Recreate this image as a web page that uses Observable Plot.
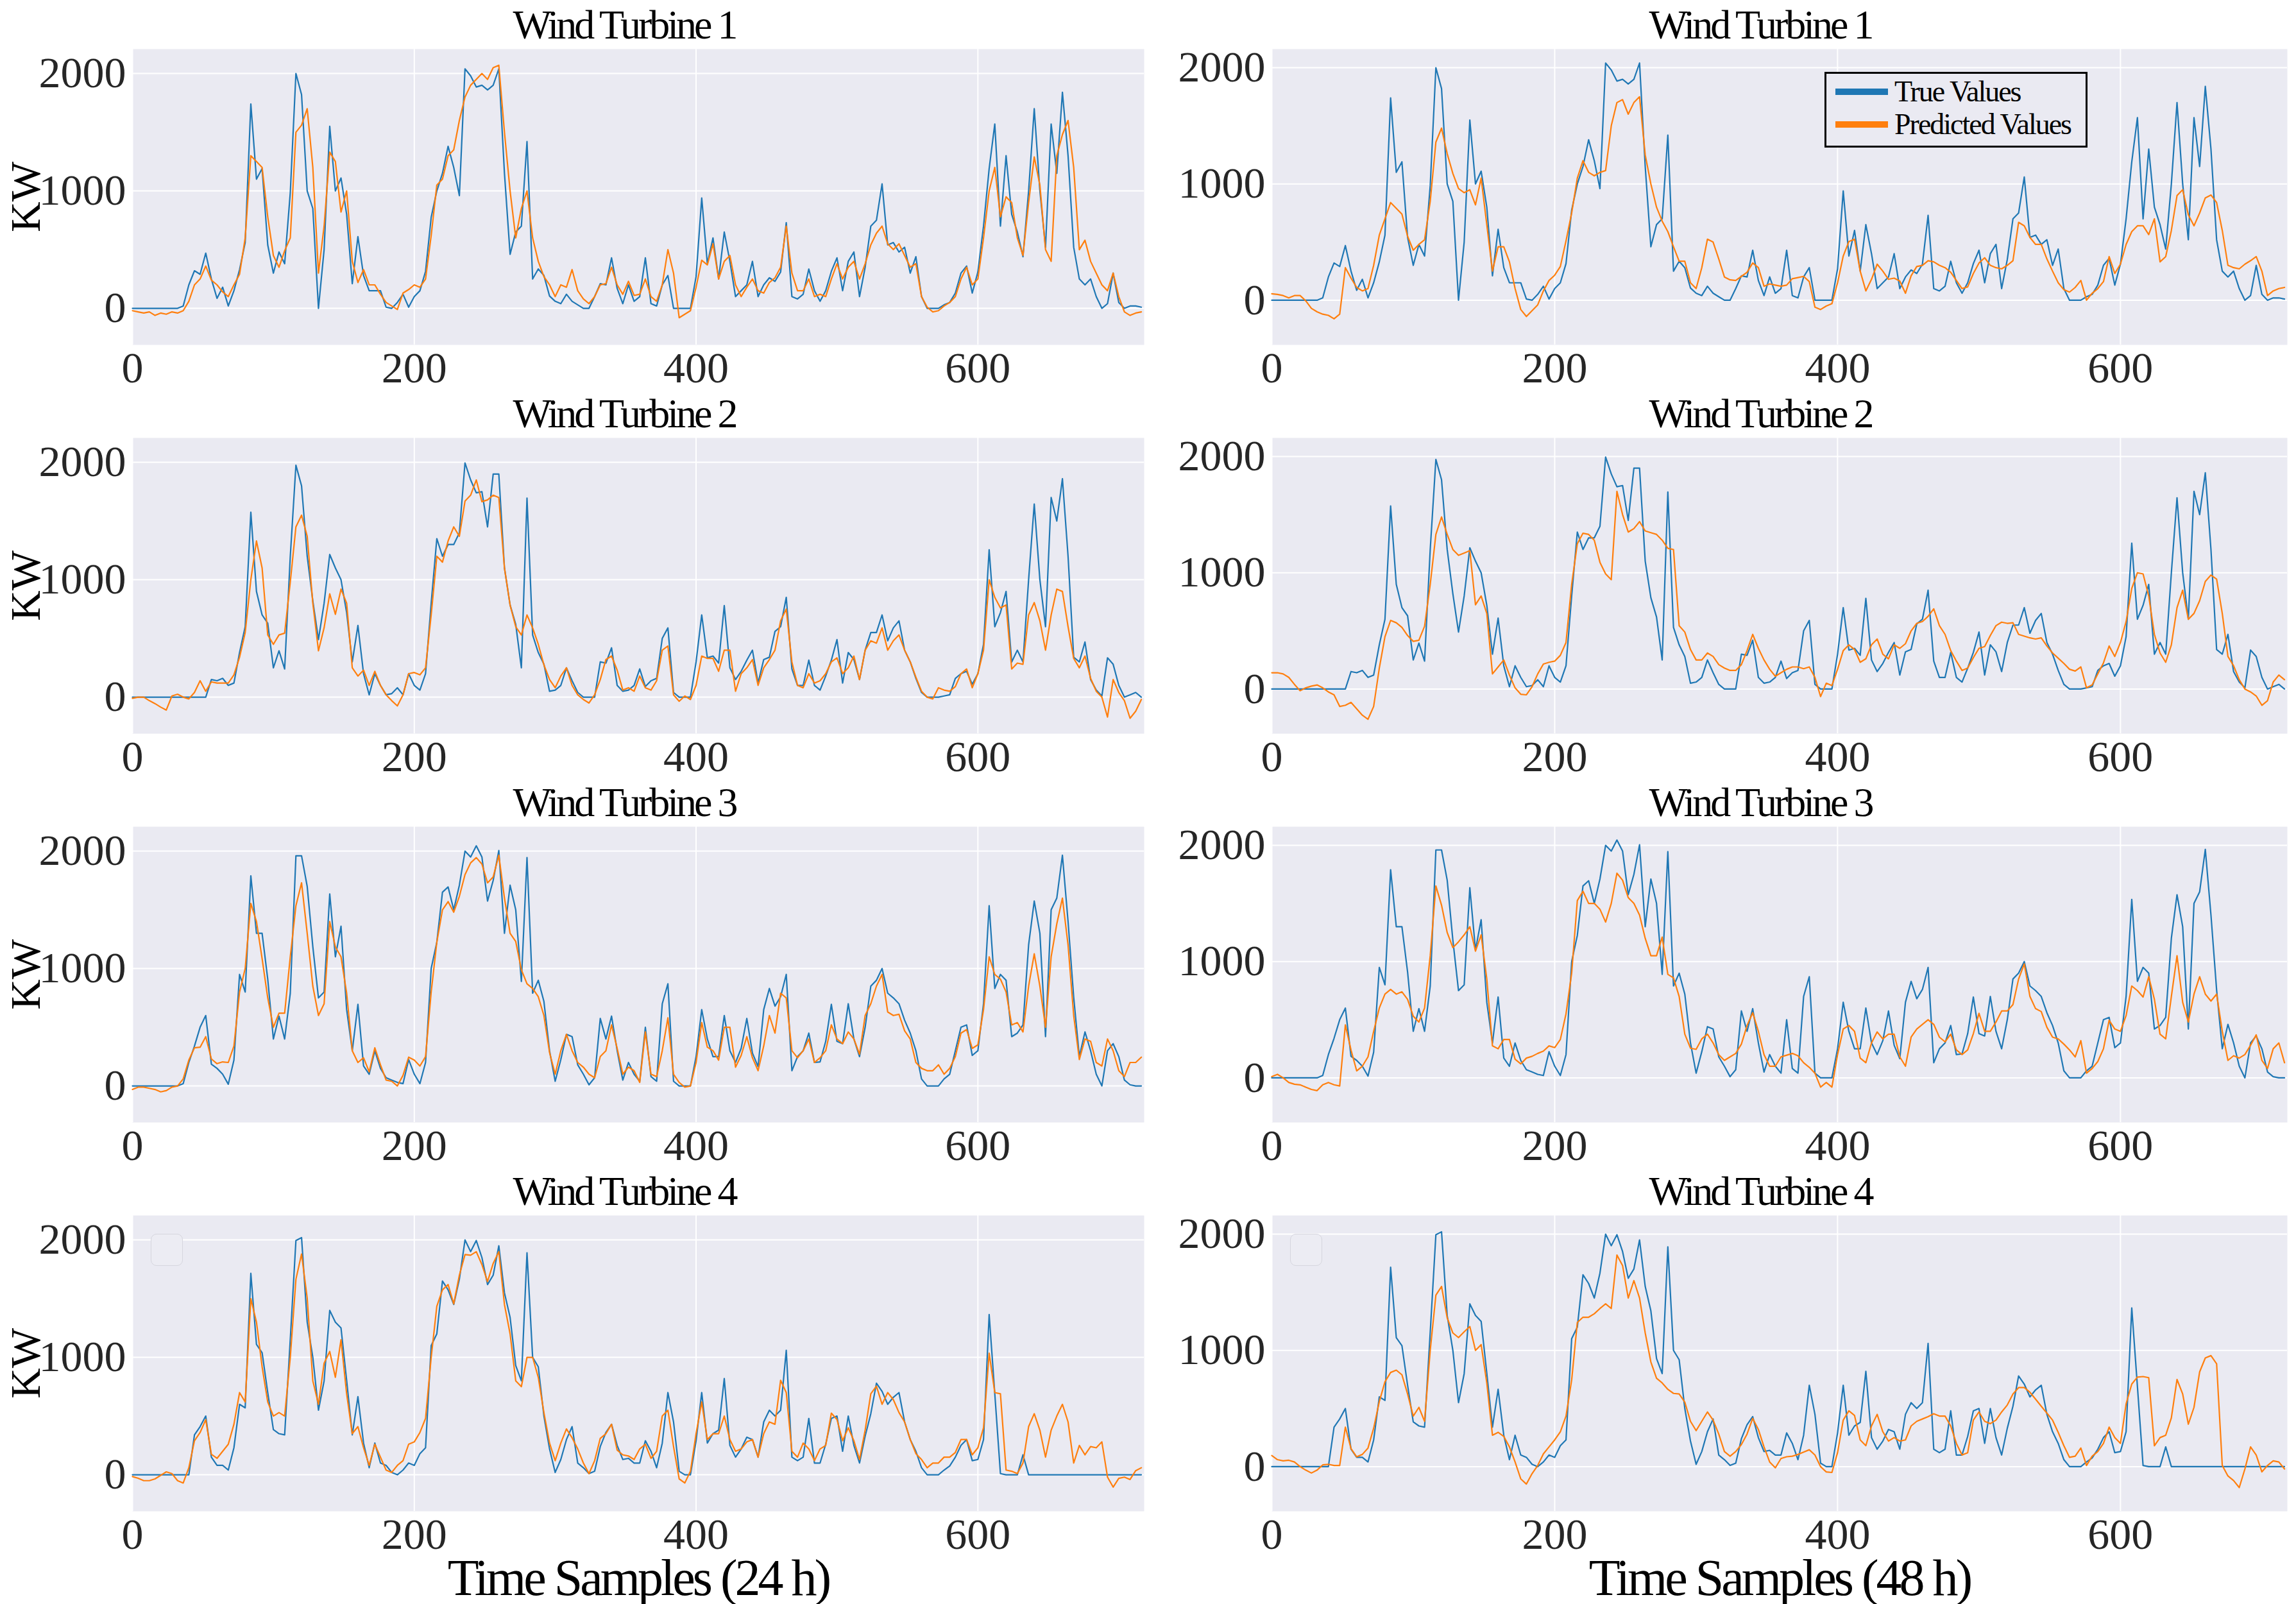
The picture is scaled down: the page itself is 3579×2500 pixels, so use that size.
<!DOCTYPE html>
<html><head><meta charset="utf-8">
<script src="https://cdn.jsdelivr.net/npm/d3@7"></script>
<script src="https://cdn.jsdelivr.net/npm/@observablehq/plot@0.6"></script>
<style>
html,body{margin:0;padding:0;background:#fff;}
#fig{position:relative;width:3579px;height:2500px;background:#fff;font-family:"Liberation Serif","Times New Roman",serif;}
#fig svg{overflow:visible;}
#fig svg text{font-family:"Liberation Serif","Times New Roman",serif;}
.panel{position:absolute;}
.legend{position:absolute;box-sizing:border-box;border:3px solid #000;background:#EAEAF2;}
.legend .sw{position:absolute;height:10px;}
.legend .lb{position:absolute;font-size:46px;line-height:46px;letter-spacing:-2px;color:#000;white-space:nowrap;}
.emptyleg{position:absolute;box-sizing:border-box;width:50px;height:50px;border:1.5px solid #d6d6de;border-radius:9px;background:#ececf3;}
</style></head>
<body><div id="fig"></div>
<script>
// sampling interval of the values below (time samples)
const STEP = 4;
const titles = ["Wind Turbine 1", "Wind Turbine 2", "Wind Turbine 3", "Wind Turbine 4"];
const xLabels = ["Time Samples (24 h)", "Time Samples (48 h)"];
const yLabel = "KW";
const xTicks = [0, 200, 400, 600];
const yTicks = [0, 1000, 2000];
const legendLabels = ["True Values", "Predicted Values"];

// ---- Wind Turbine 1 ----
const true1 = [
0,0,0,0,0,0,0,0,0,20,
200,320,290,470,250,85,180,20,150,330,
560,1740,1100,1190,540,300,480,380,985,2000,
1820,1000,850,0,500,1550,1000,1110,800,210,
610,280,150,150,150,10,0,50,120,10,
100,150,315,775,1000,1150,1380,1200,960,2040,
1980,1885,1900,1860,1900,2040,1150,460,650,700,
1420,250,335,280,105,60,40,120,60,30,
0,0,100,210,200,430,170,40,200,60,
100,430,40,20,200,280,0,0,0,0,
270,940,380,600,250,650,400,100,150,200,
400,100,200,260,230,310,730,100,80,120,
335,150,60,150,315,430,150,400,480,100,
350,700,750,1060,540,560,480,520,300,440,
100,0,0,0,30,50,130,300,360,130,
310,700,1190,1570,700,1300,800,650,440,1000,
1700,1000,520,1570,1150,1840,1300,520,250,200,
250,100,0,40,300,50,0,20,20,10];
const pred24_1 = [
-20,-30,-40,-30,-60,-40,-50,-30,-40,-20,
60,200,250,360,240,200,140,100,200,290,
600,1300,1250,1200,780,450,350,490,600,1500,
1560,1700,1200,300,700,1330,1250,820,1000,400,
220,330,200,200,120,50,20,-10,130,160,
200,180,250,620,1050,1100,1300,1350,1600,1800,
1900,1950,2000,1950,2050,2070,1500,1000,600,850,
1000,600,400,270,200,100,200,180,330,150,
80,40,100,200,210,350,200,120,230,110,
120,250,100,60,200,500,300,-80,-50,-20,
180,410,370,550,250,400,450,200,100,180,
250,150,130,220,260,350,700,300,150,150,
250,100,120,100,250,380,250,350,400,250,
380,540,640,700,550,500,550,450,350,380,
100,10,-30,-20,20,50,100,250,350,200,
250,600,1000,1200,780,950,900,600,450,900,
1290,1050,500,400,1300,1480,1600,1200,500,580,
400,300,200,150,300,100,-30,-60,-40,-30];
const pred48_1 = [
55,50,40,20,40,40,-5,-70,-100,-120,
-130,-160,-120,280,190,110,80,100,300,560,
700,840,790,740,550,430,480,520,850,1360,
1480,1260,1090,960,925,950,820,1050,650,250,
460,460,330,100,-80,-140,-90,-40,80,170,
215,290,510,750,1050,1200,1100,1070,1100,1115,
1500,1700,1725,1600,1700,1750,1250,1000,800,680,
590,460,335,335,150,100,280,525,500,355,
200,175,170,205,240,320,280,120,140,130,
120,130,185,195,205,160,-60,-80,-50,-30,
150,380,505,525,250,80,180,310,250,180,
190,165,60,210,290,300,340,330,300,280,
240,170,100,115,230,320,365,300,280,270,
300,340,670,640,540,480,480,355,250,150,
90,70,110,170,0,60,100,160,375,230,
310,480,590,640,640,565,700,330,375,600,
900,950,735,640,750,880,905,840,600,300,
280,270,310,340,375,250,40,80,100,110];

// ---- Wind Turbine 2 ----
const true2 = [
0,0,0,0,0,0,0,0,0,0,
0,0,0,0,150,140,160,100,120,380,
600,1575,900,700,630,250,395,240,1200,1975,
1800,1200,820,490,800,1215,1100,1000,720,300,
610,200,20,200,100,20,30,80,20,200,
100,60,200,800,1350,1200,1300,1300,1400,1995,
1850,1740,1750,1450,1900,1900,1100,785,620,250,
1695,530,380,280,50,60,100,250,140,40,
0,0,0,300,290,420,100,50,60,100,
240,90,140,160,500,590,40,0,0,0,
300,700,335,350,290,780,250,150,220,315,
400,120,320,340,560,600,850,240,100,100,
315,100,60,180,315,490,120,380,320,150,
400,550,550,700,480,590,650,400,300,160,
40,0,0,0,10,20,160,200,220,110,
200,450,1255,600,720,900,300,400,300,1000,
1645,1000,600,1700,1500,1860,1200,340,300,470,
150,60,10,335,280,100,0,20,40,0];
const pred24_2 = [
-10,0,0,-30,-55,-85,-110,10,25,0,
-15,40,140,50,130,120,120,120,190,340,
550,1000,1330,1100,530,450,530,545,980,1450,
1550,1370,800,395,590,880,705,920,800,250,
180,230,100,220,100,20,-30,-75,20,200,
210,190,250,700,1200,1150,1330,1450,1370,1670,
1720,1850,1665,1680,1720,1700,1100,785,600,530,
700,590,450,275,150,80,180,250,100,20,
-20,-50,20,150,320,350,230,60,80,50,
180,80,60,140,400,435,20,-35,10,-20,
100,350,330,330,220,400,400,50,200,250,
320,100,250,320,400,650,750,300,100,80,
200,120,140,200,300,335,200,250,350,150,
400,480,460,590,400,480,530,400,300,170,
50,0,-15,80,60,50,90,200,240,80,
200,400,1000,850,760,785,240,290,280,700,
805,650,400,700,920,900,600,330,250,350,
160,50,0,-170,150,40,-30,-180,-120,-20];
const pred48_2 = [
140,140,130,100,40,-15,10,25,35,10,
-25,-50,-150,-140,-115,-170,-225,-260,-150,180,
450,590,570,530,460,410,420,540,900,1330,
1480,1330,1200,1150,1170,1190,725,800,650,130,
190,250,120,10,-45,-50,20,130,215,230,
240,290,400,900,1250,1340,1330,1280,1090,990,
940,1700,1500,1350,1380,1440,1360,1345,1330,1280,
1210,1200,545,490,340,250,250,310,280,210,
180,160,160,210,330,470,350,250,170,110,
140,170,190,190,175,190,100,-65,50,30,
170,330,380,340,230,260,380,430,300,260,
380,350,390,500,565,580,625,690,545,470,
330,240,160,180,270,350,365,460,545,575,
565,570,470,455,440,430,440,370,310,265,
220,170,155,190,10,35,130,225,370,280,
400,580,865,1000,990,800,470,310,230,380,
700,850,600,650,760,925,980,945,650,280,
200,80,0,-25,-60,-140,-100,60,120,80];

// ---- Wind Turbine 3 ----
const true3 = [
0,0,0,0,0,0,0,0,0,20,
200,340,500,600,185,150,100,15,220,950,
800,1790,1300,1300,910,400,595,400,790,1960,
1960,1700,1185,750,800,1635,1100,1360,650,300,
695,170,100,300,150,70,50,30,20,225,
100,20,200,1000,1225,1650,1695,1500,1710,2000,
1950,2045,1950,1575,1750,2005,1300,1710,1500,890,
1945,790,900,720,300,40,225,440,420,180,
100,10,70,575,400,595,300,50,200,100,
40,500,80,40,700,870,40,0,0,0,
250,650,400,250,250,600,300,200,320,575,
280,165,650,830,680,760,950,130,250,300,
450,200,205,380,695,380,360,700,400,250,
500,850,900,1000,790,750,700,560,450,300,
60,0,0,0,60,100,300,500,520,260,
300,700,1535,830,950,900,420,450,520,1200,
1575,1300,420,1500,1600,1965,1400,755,250,460,
300,100,0,300,360,250,50,10,0,0];
const pred24_3 = [
-30,-10,-10,-20,-30,-50,-40,-10,0,60,
220,325,330,420,230,190,205,200,340,800,
1000,1555,1400,1085,750,500,620,620,1100,1535,
1730,1300,850,600,700,1400,1185,1100,790,300,
200,240,120,325,180,50,40,0,90,245,
220,170,250,800,1225,1500,1570,1480,1615,1800,
1900,1945,1890,1730,1780,1965,1600,1300,1230,990,
870,830,760,600,285,100,300,440,300,200,
160,100,70,250,300,520,320,100,160,130,
30,460,100,80,300,580,100,30,-10,0,
200,540,330,300,220,500,500,160,260,420,
240,130,340,600,450,790,750,300,240,300,
400,200,240,300,520,400,360,460,400,270,
600,700,850,950,630,600,610,470,400,200,
150,130,130,180,100,150,250,450,480,320,
350,650,1100,950,910,800,520,540,460,850,
1125,850,500,1100,1380,1600,1200,600,225,400,
380,200,170,400,300,130,80,200,200,245];
const pred48_3 = [
10,30,0,-40,-55,-60,-80,-100,-110,-60,
-40,-60,-70,455,240,60,100,180,400,600,
720,760,720,740,675,530,480,600,1050,1650,
1485,1250,1120,1170,1230,1300,1090,1230,850,275,
250,330,330,160,120,170,185,210,230,275,
260,330,550,900,1525,1605,1500,1500,1450,1340,
1500,1760,1700,1550,1500,1400,1200,1050,1050,1210,
890,860,700,375,255,245,335,375,300,200,
150,180,210,290,450,560,400,200,100,100,
180,195,210,190,130,90,40,-80,-40,-80,
200,420,450,400,170,130,300,395,335,375,
375,180,100,350,420,460,500,460,350,310,
375,240,200,240,380,555,400,400,480,575,
575,630,850,980,700,595,570,435,350,335,
290,240,180,320,40,80,140,250,495,420,
400,535,790,750,695,870,675,375,335,700,
1050,650,480,720,870,720,660,720,400,150,
190,170,200,280,370,150,80,250,300,130];

// ---- Wind Turbine 4 ----
const true4 = [
0,0,0,0,0,0,0,0,0,0,
0,340,410,500,150,80,80,40,230,600,
570,1715,1110,1040,700,385,350,340,1155,1995,
2020,1300,1000,550,800,1400,1300,1250,805,340,
665,270,60,270,100,80,20,0,40,100,
80,180,230,1100,1200,1650,1575,1450,1665,2000,
1900,1995,1850,1620,1700,1950,1550,1340,930,800,
1890,1000,920,500,220,20,130,300,410,100,
60,10,30,240,360,430,250,130,140,100,
100,290,200,60,270,700,450,30,0,0,
290,700,270,350,380,820,250,150,220,320,
300,150,450,550,500,550,1060,150,120,150,
480,100,100,260,480,500,200,500,250,100,
330,520,780,710,600,660,700,450,300,200,
60,0,0,0,40,75,150,250,300,120,
130,300,1365,690,10,0,0,0,170,0,
0,0,0,0,0,0,0,0,0,0,
0,0,0,0,0,0,0,0,0,0];
const pred24_4 = [
-15,-30,-50,-50,-35,-5,25,10,-50,-70,
60,290,360,470,175,140,200,260,430,700,
620,1500,1300,920,620,500,530,500,1000,1665,
1880,1505,800,600,950,1050,830,1150,690,350,
410,230,80,260,150,40,20,80,120,260,
280,360,480,1000,1435,1575,1620,1455,1700,1875,
1870,1900,1790,1645,1800,1900,1450,1200,800,750,
1000,1000,830,530,270,120,270,390,315,220,
100,10,120,310,350,430,210,170,160,130,
220,260,140,200,500,550,240,-35,-70,30,
350,620,300,350,350,500,300,200,220,280,
300,150,350,450,430,805,700,200,150,270,
220,120,220,250,525,470,290,400,290,130,
380,690,755,600,700,640,530,450,300,180,
130,60,100,100,150,150,190,300,300,170,
230,400,1035,700,690,40,30,10,100,410,
520,380,150,380,500,600,450,100,250,170,
240,230,280,-20,-105,-30,-20,-40,35,60];
const pred48_4 = [
95,60,50,55,40,0,-30,-55,-30,15,
20,10,10,340,155,85,105,160,330,560,
730,810,830,790,625,435,510,390,1000,1475,
1550,1280,1150,1110,1160,1205,1000,1050,720,270,
295,260,170,40,-105,-150,-60,10,110,170,
230,300,435,745,1240,1285,1285,1315,1360,1400,
1360,1820,1730,1450,1600,1450,1150,900,760,720,
665,630,625,555,390,310,390,470,400,280,
130,90,130,190,280,415,320,170,40,-10,
70,85,90,105,125,145,100,0,-45,-50,
120,400,480,440,230,180,350,450,300,220,
250,220,230,350,390,410,430,455,435,435,
350,200,100,120,400,470,390,370,400,470,
530,625,680,680,640,580,520,460,400,295,
180,80,90,160,10,90,130,200,340,250,
200,540,710,770,775,765,180,250,270,420,
750,625,365,510,815,935,955,885,10,-80,
-120,-180,-20,170,100,-45,10,50,40,-20];

const trueSeries = [true1, true2, true3, true4];
const pred24 = [pred24_1, pred24_2, pred24_3, pred24_4];
const pred48 = [pred48_1, pred48_2, pred48_3, pred48_4];

// ---- layout ----
const FONT = '"Liberation Serif","Times New Roman",serif';
const BLUE = "#1f77b4", ORANGE = "#ff7f0e";
const rowTops = [76, 682, 1288, 1894];
const plotH = 461;
const cols = [
  {left: 0, width: 1790, mL: 206, mR: 7, domain: [-311, 2208], preds: pred24, titleDx: -22},
  {left: 1790, width: 1789, mL: 192, mR: 14, domain: [-384, 2160], preds: pred48, titleDx: -30}
];
const toRows = arr => arr.map((v, i) => ({t: i * STEP, kw: v}));
const fig = document.getElementById("fig");

for (let r = 0; r < 4; r++) {
  for (let c = 0; c < 2; c++) {
    const col = cols[c];
    const top = rowTops[r] - 76;
    const last = r === 3;
    const height = last ? 2500 - top : 630;
    const mB = height - 76 - plotH;
    const marks = [
      Plot.frame({fill: "#EAEAF2", stroke: "none"}),
      Plot.ruleX(xTicks, {stroke: "white", strokeWidth: 2}),
      Plot.ruleY(yTicks, {stroke: "white", strokeWidth: 2}),
      Plot.lineY(toRows(trueSeries[r]), {x: "t", y: "kw", stroke: BLUE, strokeWidth: 2.2}),
      Plot.lineY(toRows(col.preds[r]), {x: "t", y: "kw", stroke: ORANGE, strokeWidth: 2.2}),
      Plot.text([titles[r]], {frameAnchor: "top", dx: col.titleDx, dy: -17, lineAnchor: "bottom", fontSize: 64, fill: "black"})
    ];
    if (c === 0) marks.push(Plot.text([yLabel], {frameAnchor: "left", dx: -166, rotate: -90, textAnchor: "middle", fontSize: 66, fill: "black"}));
    if (last) marks.push(Plot.text([xLabels[c]], {frameAnchor: "bottom", dy: 130, lineAnchor: "bottom", fontSize: 80, fill: "black"}));
    const chart = Plot.plot({
      width: col.width, height,
      marginLeft: col.mL, marginRight: col.mR, marginTop: 76, marginBottom: mB,
      x: {domain: [0, 718], ticks: xTicks, tickSize: 0, tickPadding: 10, tickFormat: "d", label: null},
      y: {domain: col.domain, ticks: yTicks, tickSize: 0, tickPadding: 10, tickFormat: "d", label: null},
      style: {fontFamily: FONT, fontSize: "68px", color: "#262626", background: "transparent", overflow: "visible"},
      marks
    });
    // condensed look of the serif titles/labels in the reference
    d3.select(chart).selectAll("text").each(function() {
      const t = this.textContent;
      if (titles.includes(t)) this.style.letterSpacing = "-4px";
      if (xLabels.includes(t)) this.style.letterSpacing = "-4px";
    });
    const div = document.createElement("div");
    div.className = "panel";
    div.style.left = col.left + "px";
    div.style.top = top + "px";
    div.appendChild(chart);
    fig.appendChild(div);
  }
}

// legend (top-right panel)
const leg = document.createElement("div");
leg.className = "legend";
leg.style.left = "2844px"; leg.style.top = "112px"; leg.style.width = "410px"; leg.style.height = "118px";
[[BLUE, 31], [ORANGE, 82]].forEach(([color, cy], i) => {
  const sw = document.createElement("div");
  sw.className = "sw"; sw.style.background = color;
  sw.style.left = "14px"; sw.style.width = "82px"; sw.style.top = (cy - 5 - 3) + "px";
  leg.appendChild(sw);
  const lb = document.createElement("div");
  lb.className = "lb"; lb.textContent = legendLabels[i];
  lb.style.left = "106px"; lb.style.top = (cy - 23 - 3) + "px";
  leg.appendChild(lb);
});
fig.appendChild(leg);

// empty legend boxes in bottom panels
[[235, 1923], [2011, 1923]].forEach(([x, y]) => {
  const e = document.createElement("div");
  e.className = "emptyleg"; e.style.left = x + "px"; e.style.top = y + "px";
  fig.appendChild(e);
});
</script>
</body></html>
